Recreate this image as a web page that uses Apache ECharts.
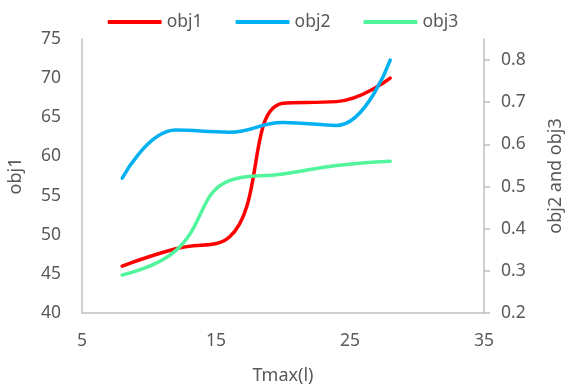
<!DOCTYPE html>
<html>
<head>
<meta charset="utf-8">
<script src="https://cdn.jsdelivr.net/npm/echarts@6/dist/echarts.min.js"></script>
<style>html,body{margin:0;padding:0;background:#fff}#c{width:566px;height:391px}</style>
</head>
<body>
<div id="c"></div>
<script>
var xs = [8, 12, 16, 20, 24, 28];
var obj1 = [46, 48.2, 49.7, 66.8, 67.0, 70];
var obj2 = [0.52, 0.634, 0.629, 0.652, 0.645, 0.80];
var obj3 = [0.29, 0.348, 0.514, 0.530, 0.55, 0.56];
var xTicks = [5, 15, 25, 35];
var leftTicks = [40, 45, 50, 55, 60, 65, 70, 75];
var rightTicks = [0.2, 0.3, 0.4, 0.5, 0.6, 0.7, 0.8];

function pairs(a) { return xs.map(function (x, i) { return [x, a[i]]; }); }
var FONT = 'Noto Sans';
var TXT = '#595959';
var AX = '#BFBFBF';
var chart = echarts.init(document.getElementById('c'), null, { renderer: 'canvas' });
chart.setOption({
  animation: false,
  textStyle: { fontFamily: FONT },
  legend: {
    top: 8, left: 'center', itemWidth: 54, itemHeight: 4, itemGap: 33,
    textStyle: { color: TXT, fontSize: 17.5, fontFamily: FONT },
    data: [
      { name: 'obj1', icon: 'roundRect' },
      { name: 'obj2', icon: 'roundRect' },
      { name: 'obj3', icon: 'roundRect' }
    ]
  },
  grid: { left: 82, right: 82, top: 39, bottom: 78, outerBoundsMode: 'none', containLabel: false },
  xAxis: {
    type: 'value', min: 5, max: 35, interval: 10,
    name: 'Tmax(l)', nameLocation: 'middle', nameGap: 54,
    nameTextStyle: { color: TXT, fontSize: 18, fontFamily: FONT },
    axisLine: { show: true, lineStyle: { color: AX, width: 1.5 } },
    axisTick: { show: false },
    splitLine: { show: false },
    axisLabel: { color: TXT, fontSize: 17.5, margin: 19, fontFamily: FONT, customValues: xTicks }
  },
  yAxis: [
    {
      type: 'value', min: 40, max: 75, interval: 5, position: 'left',
      name: 'obj1', nameLocation: 'middle', nameGap: 57, nameRotate: 90,
      nameTextStyle: { color: TXT, fontSize: 18, fontFamily: FONT },
      axisLine: { show: true, lineStyle: { color: AX, width: 1.5 } },
      axisTick: { show: false },
      splitLine: { show: false },
      axisLabel: { color: TXT, fontSize: 17.5, margin: 21, fontFamily: FONT, customValues: leftTicks }
    },
    {
      type: 'value', min: 0.2, max: 0.85, interval: 0.1, position: 'right',
      name: 'obj2 and obj3', nameLocation: 'middle', nameGap: 63, nameRotate: 90,
      nameTextStyle: { color: TXT, fontSize: 18, fontFamily: FONT },
      axisLine: { show: true, lineStyle: { color: AX, width: 1.5 } },
      axisTick: { show: true, length: 6, lineStyle: { color: AX, width: 1.5 }, customValues: rightTicks },
      splitLine: { show: false },
      axisLabel: { color: TXT, fontSize: 17.5, margin: 17, fontFamily: FONT, customValues: rightTicks,
        formatter: function (v) { return v.toFixed(1); } }
    }
  ],
  series: [
    { name: 'obj1', type: 'line', yAxisIndex: 0, data: pairs(obj1), smooth: 0.45, showSymbol: false,
      lineStyle: { color: '#FF0000', width: 3.5, cap: 'round' }, itemStyle: { color: '#FF0000' } },
    { name: 'obj2', type: 'line', yAxisIndex: 1, data: pairs(obj2), smooth: 0.45, showSymbol: false,
      lineStyle: { color: '#00B0F0', width: 3.5, cap: 'round' }, itemStyle: { color: '#00B0F0' } },
    { name: 'obj3', type: 'line', yAxisIndex: 1, data: pairs(obj3), smooth: 0.45, showSymbol: false,
      lineStyle: { color: '#52F59C', width: 3.5, cap: 'round' }, itemStyle: { color: '#52F59C' } }
  ]
});
</script>
</body>
</html>
